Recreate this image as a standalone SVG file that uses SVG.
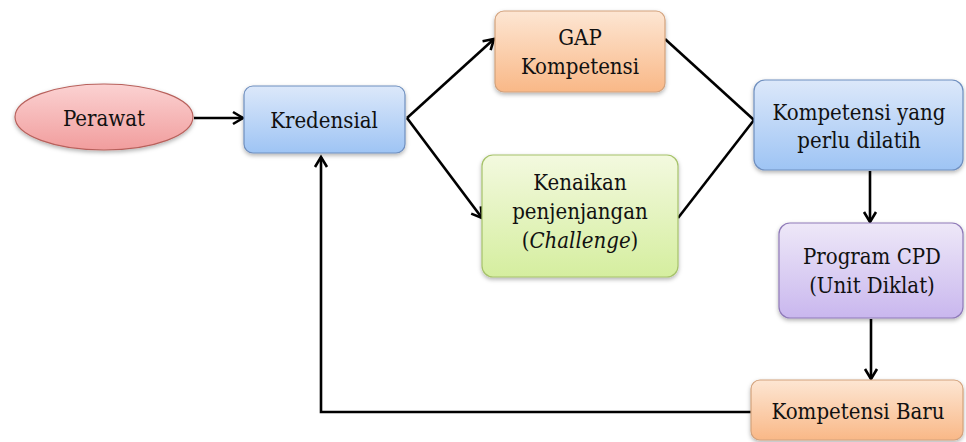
<svg xmlns="http://www.w3.org/2000/svg" width="966" height="442" viewBox="0 0 966 442">
  <defs>
    <linearGradient id="gBlue" x1="0" y1="0" x2="0" y2="1">
      <stop offset="0" stop-color="#dce8fa"/>
      <stop offset="1" stop-color="#9ec4f4"/>
    </linearGradient>
    <linearGradient id="gOrange" x1="0" y1="0" x2="0" y2="1">
      <stop offset="0" stop-color="#fde6d3"/>
      <stop offset="1" stop-color="#f9b887"/>
    </linearGradient>
    <linearGradient id="gGreen" x1="0" y1="0" x2="0" y2="1">
      <stop offset="0" stop-color="#f3f9df"/>
      <stop offset="1" stop-color="#d5ee9f"/>
    </linearGradient>
    <linearGradient id="gPurple" x1="0" y1="0" x2="0" y2="1">
      <stop offset="0" stop-color="#eee8f8"/>
      <stop offset="1" stop-color="#c9b7ee"/>
    </linearGradient>
    <linearGradient id="gPink" x1="0" y1="0" x2="0" y2="1">
      <stop offset="0" stop-color="#fbd2d2"/>
      <stop offset="1" stop-color="#f19d9d"/>
    </linearGradient>
    <filter id="shadow" x="-10%" y="-10%" width="120%" height="130%">
      <feDropShadow dx="0" dy="2" stdDeviation="2" flood-color="#000" flood-opacity="0.3"/>
    </filter>
    <marker id="arrow" markerUnits="userSpaceOnUse" markerWidth="16" markerHeight="16" viewBox="0 0 16 16" refX="13" refY="8" orient="auto">
      <path d="M3,2 L13,8 L3,14" fill="none" stroke="#000" stroke-width="2.6" stroke-linejoin="miter"/>
    </marker>
  </defs>
  <style>
    .box { stroke-width: 1.2; filter: url(#shadow); }
    .blue { fill: url(#gBlue); stroke: #6f8fbf; }
    .orange { fill: url(#gOrange); stroke: #d3a27c; }
    .green { fill: url(#gGreen); stroke: #a6c26a; }
    .purple { fill: url(#gPurple); stroke: #8f7ab8; }
    .pink { fill: url(#gPink); stroke: #b8615c; }
    .lbl { font-family: "DejaVu Serif", "Liberation Serif", serif; font-stretch: condensed; font-size: 22px; fill: #111; text-anchor: middle; }
    .conn { fill: none; stroke: #000; stroke-width: 2.6; }
  </style>

  <rect width="966" height="442" fill="#fff"/>

  <!-- connectors -->
  <g id="connectors">
    <line class="conn" x1="194" y1="118" x2="243" y2="118" marker-end="url(#arrow)"/>
    <line class="conn" x1="407" y1="118" x2="494" y2="39" marker-end="url(#arrow)"/>
    <line class="conn" x1="407" y1="118" x2="482" y2="218" marker-end="url(#arrow)"/>
    <line class="conn" x1="665" y1="39" x2="754" y2="120"/>
    <line class="conn" x1="678" y1="218" x2="754" y2="120"/>
    <line class="conn" x1="870" y1="171" x2="870" y2="222" marker-end="url(#arrow)"/>
    <line class="conn" x1="871" y1="319" x2="871" y2="379" stroke-width="3"/>
    <line x1="871" y1="360" x2="871" y2="379" stroke="none" marker-end="url(#arrow)"/>
    <polyline class="conn" points="751,412 321,412 321,157" marker-end="url(#arrow)"/>
  </g>

  <!-- nodes -->
  <g id="perawat">
    <ellipse class="box pink" cx="104" cy="117" rx="89" ry="33"/>
    <text class="lbl" x="104" y="126">Perawat</text>
  </g>

  <g id="kredensial">
    <rect class="box blue" x="244" y="86" width="161" height="67" rx="9"/>
    <text class="lbl" x="324" y="128">Kredensial</text>
  </g>

  <g id="gap-kompetensi">
    <rect class="box orange" x="495" y="11" width="170" height="81" rx="9"/>
    <text class="lbl" x="580" y="45">GAP</text>
    <text class="lbl" x="580" y="74">Kompetensi</text>
  </g>

  <g id="kenaikan-penjenjangan">
    <rect class="box green" x="482" y="155" width="196" height="122" rx="11"/>
    <text class="lbl" x="580" y="190">Kenaikan</text>
    <text class="lbl" x="580" y="219">penjenjangan</text>
    <text class="lbl" x="580" y="248">(<tspan font-style="italic">Challenge</tspan>)</text>
  </g>

  <g id="kompetensi-dilatih">
    <rect class="box blue" x="754" y="80" width="209" height="90" rx="11"/>
    <text class="lbl" x="859" y="120">Kompetensi yang</text>
    <text class="lbl" x="859" y="148">perlu dilatih</text>
  </g>

  <g id="program-cpd">
    <rect class="box purple" x="779" y="223" width="184" height="95" rx="11"/>
    <text class="lbl" x="872" y="264">Program CPD</text>
    <text class="lbl" x="872" y="293">(Unit Diklat)</text>
  </g>

  <g id="kompetensi-baru">
    <rect class="box orange" x="751" y="380" width="212" height="60" rx="9"/>
    <text class="lbl" x="858" y="419">Kompetensi Baru</text>
  </g>
</svg>
